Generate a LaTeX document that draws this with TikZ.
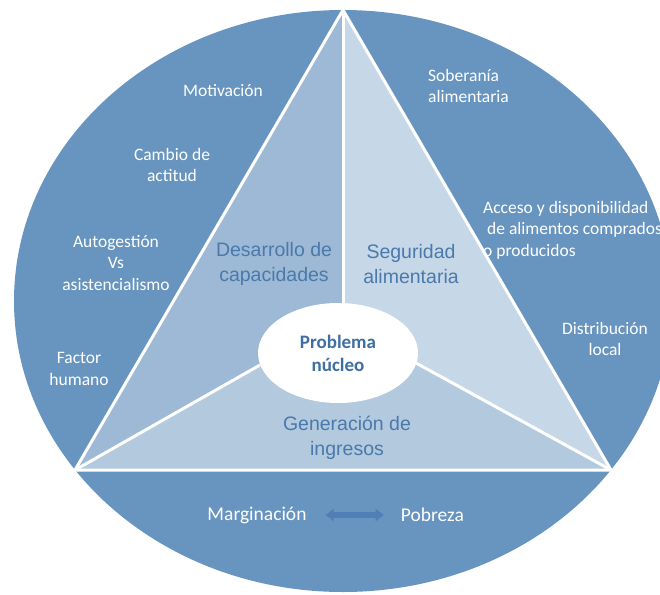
\documentclass[tikz,border=0pt]{standalone}
\usepackage{fontspec}
\setmainfont{Liberation Sans}
\newfontfamily\calib{Carlito}
\usetikzlibrary{arrows.meta,positioning,shapes.geometric}

\definecolor{ringblue}{HTML}{6895BF}
\definecolor{capblue}{HTML}{9DB9D5}
\definecolor{foodblue}{HTML}{C6D8E7}
\definecolor{incomeblue}{HTML}{B2C9DE}
\definecolor{labelblue}{HTML}{4A79AC}
\definecolor{coreblue}{HTML}{3E6EA2}
\definecolor{pairblue}{HTML}{4F7FB4}

\begin{document}
\begin{tikzpicture}[
  x=1pt, y=-1pt,
  divider/.style={draw=white, line width=3pt, line join=round},
  outer/.style={align=center, text=white, inner sep=0pt, font=\calib\fontsize{17.5}{21.5}\selectfont},
  area/.style={align=center, text=labelblue, inner sep=0pt, font=\fontsize{19.5}{25}\selectfont},
  corebox/.style={ellipse, fill=white, minimum width=160, minimum height=100, inner sep=0pt,
    align=center, text=coreblue, font=\calib\bfseries\fontsize{19}{23}\selectfont},
  pair/.style={{Triangle[length=8pt,width=12pt]}-{Triangle[length=8pt,width=12pt]}, line width=6pt, draw=pairblue}
]
\clip (0,0) rectangle (660,594);

% outer ring and the three corners of the triangle
\fill[ringblue] (343,301) ellipse [x radius=329, y radius=291];
\coordinate (apex) at (343,10);
\coordinate (left) at (75,470);
\coordinate (right) at (611,470);
% where the dividers touch the core
\coordinate (ctop) at (343,303);
\coordinate (cleft) at (260,365);
\coordinate (cright) at (416,363);

% triangle areas
\fill[incomeblue] (apex) -- (left) -- (right) -- cycle;
\fill[capblue] (apex) -- (left) -- (cleft) -- (ctop) -- cycle;
\fill[foodblue] (apex) -- (right) -- (cright) -- (ctop) -- cycle;

\draw[divider] (apex) -- (left) -- (right) -- cycle;
\draw[divider] (apex) -- (ctop);
\draw[divider] (cleft) -- (left);
\draw[divider] (cright) -- (right);

\node[corebox] (core) at (338,353) {Problema\\núcleo};

% inner labels
\node[area] (capac) at (274,264) {Desarrollo de\\capacidades};
\node[area] (secur) at (411,264) {Seguridad\\alimentaria};
\node[area] (income) at (347,438) {Generación de\\ingresos};

% left side
\node[outer] (motiv) at (223,91) {Motivación};
\node[outer] (change) at (172,165) {Cambio de\\actitud};
\node[outer] (selfman) at (116,263) {Autogestión\\Vs\\asistencialismo};
\node[outer] (human) at (79,369) {Factor\\humano};

% right side
\node[outer, align=left, anchor=west] (sover) at (428,86) {Soberanía\\alimentaria};
\node[outer, align=left, anchor=west] (access) at (483,230)
  {Acceso y disponibilidad\\\hspace*{4pt}de alimentos comprados\\o producidos};
\node[outer] (distrib) at (605,339) {Distribución\\local};

% bottom
\node[outer, font=\calib\fontsize{19.5}{23}\selectfont] (margin) at (257,515) {Marginación};
\node[outer, font=\calib\fontsize{19.5}{23}\selectfont, right=94pt of margin] (poverty) {Pobreza};
\draw[pair, shorten <=19pt, shorten >=17pt] (margin.east) -- (poverty.west);

\end{tikzpicture}
\end{document}
